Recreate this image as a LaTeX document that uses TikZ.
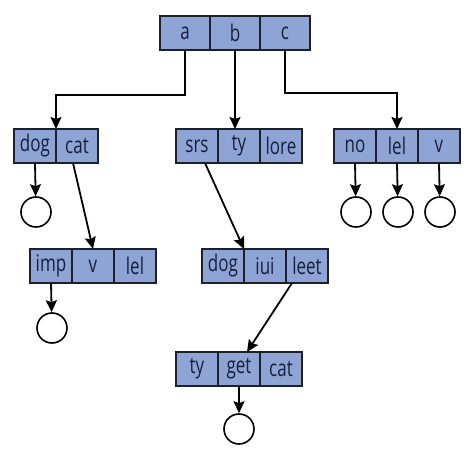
\documentclass[tikz,border=0pt]{standalone}
\usepackage{fontspec}
\setmainfont{Open Sans}[FakeStretch=0.74]
\usepackage{tikz}
\usetikzlibrary{arrows.meta,positioning}

\definecolor{cellblue}{RGB}{141,164,212}
\definecolor{celltext}{RGB}{22,30,64}
\definecolor{edgedark}{RGB}{28,32,44}

\tikzset{
  cell/.style={draw=edgedark, fill=cellblue, line width=1.6pt, outer sep=0pt,
    minimum width=42pt, minimum height=34pt, inner sep=0pt,
    font=\fontsize{23}{23}\selectfont, text=celltext},
  topcell/.style={cell, minimum width=50pt},
  leaf/.style={circle, draw=black, line width=1.6pt, minimum size=30pt, inner sep=0pt},
  arr/.style={-{Stealth[length=12pt, width=11pt, inset=2pt]}, line width=1.8pt}
}

\begin{document}
\begin{tikzpicture}[x=1pt, y=-1pt]
  \useasboundingbox (0,0) rectangle (474,460);

  % root
  \node[topcell] (a) at (185,33) {a};
  \node[topcell, right=0pt of a] (b) {b};
  \node[topcell, right=0pt of b] (c) {c};

  % second level
  \node[cell] (dog) at (35,146) {dog};
  \node[cell, right=0pt of dog] (cat) {cat};

  \node[cell] (srs) at (197,146) {srs};
  \node[cell, right=0pt of srs] (ty) {ty};
  \node[cell, right=0pt of ty] (lore) {lore};

  \node[cell] (no) at (355,146) {no};
  \node[cell, right=0pt of no] (lel) {lel};
  \node[cell, right=0pt of lel] (v) {v};

  % third level
  \node[cell] (imp) at (51,266) {imp};
  \node[cell, right=0pt of imp] (vb) {v};
  \node[cell, right=0pt of vb] (lelb) {lel};

  \node[cell] (dogb) at (223,266) {dog};
  \node[cell, right=0pt of dogb] (iui) {iui};
  \node[cell, right=0pt of iui] (leet) {leet};

  % fourth level
  \node[cell] (tyc) at (197,369) {ty};
  \node[cell, right=0pt of tyc] (get) {get};
  \node[cell, right=0pt of get] (catc) {cat};

  % end markers
  \node[leaf] (e1) at (36,212) {};
  \node[leaf] (e2) at (356,212) {};
  \node[leaf] (e3) at (398,212) {};
  \node[leaf] (e4) at (440,212) {};
  \node[leaf] (e5) at (52,328) {};
  \node[leaf] (e6) at (239,429) {};

  % links from root
  \draw[arr] (a.south) -- (a.south |- 0,95) -| (dog.north east);
  \draw[arr] (b.south) -- (b.south |- ty.north);
  \draw[arr] (c.south) -- (c.south |- 0,93) -| (lel.north);

  % inner links
  \draw[arr] ([xshift=-4pt]cat.south) -- (vb.north);
  \draw[arr] ([xshift=8pt]srs.south) -- (dogb.north east);
  \draw[arr] ([xshift=6pt]leet.south west) -- ([xshift=8pt]get.north);

  % links to end markers
  \draw[arr] (dog.south) -- (e1);
  \draw[arr] (no.south) -- (e2);
  \draw[arr] (lel.south) -- (e3);
  \draw[arr] (v.south) -- (e4);
  \draw[arr] (imp.south) -- (e5);
  \draw[arr] (get.south) -- (e6);
\end{tikzpicture}
\end{document}
